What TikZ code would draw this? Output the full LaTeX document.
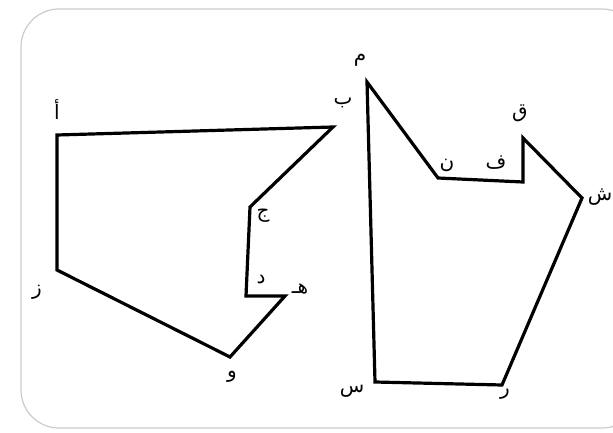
\documentclass[tikz,border=0pt]{standalone}
\usepackage{fontspec}
\newfontfamily\arabicfont[Script=Arabic]{DejaVu Sans}
\TeXXeTstate=1
\begin{document}
\begin{tikzpicture}[x=1pt,y=-1pt,
  polyline/.style={line width=3.2pt,line join=miter,black},
  lbl/.style={font=\arabicfont\fontsize{20}{20}\selectfont,inner sep=0pt},
  frame/.style={draw=black!20,line width=1.2pt,rounded corners=38pt}]
\useasboundingbox (0,0) rectangle (613,433);
\fill[white] (0,0) rectangle (613,433);
\draw[frame] (21,9) rectangle (640,428);
% left polygon
\coordinate (A) at (57,135);
\coordinate (B) at (333,127);
\coordinate (C) at (250,207);
\coordinate (D) at (246,296);
\coordinate (E) at (285,296);
\coordinate (F) at (230,357);
\coordinate (G) at (57,270);
\draw[polyline] (A) -- (B) -- (C) -- (D) -- (E) -- (F) -- (G) -- cycle;
\node[lbl] (lA) at (57,110) {\beginR أ\endR};
\node[lbl] (lB) at (343,103) {\beginR ب\endR};
\node[lbl] (lC) at (263,216) {\beginR ج\endR};
\node[lbl] (lD) at (261,280) {\beginR د\endR};
\node[lbl] (lE) at (300,289) {\beginR هـ\endR};
\node[lbl] (lF) at (232,377) {\beginR و\endR};
\node[lbl] (lG) at (37,292) {\beginR ز\endR};
% right polygon
\coordinate (M) at (367,82);
\coordinate (N) at (438,178);
\coordinate (P) at (523,182);
\coordinate (Q) at (523,138);
\coordinate (Sh) at (582,198);
\coordinate (R) at (502,385);
\coordinate (S) at (375,382);
\draw[polyline] (M) -- (N) -- (P) -- (Q) -- (Sh) -- (R) -- (S) -- cycle;
\node[lbl] (lM) at (360,60) {\beginR م\endR};
\node[lbl] (lN) at (447,165) {\beginR ن\endR};
\node[lbl] (lP) at (496,163) {\beginR ف\endR};
\node[lbl] (lQ) at (520,113) {\beginR ق\endR};
\node[lbl] (lSh) at (600,197) {\beginR ش\endR};
\node[lbl] (lR) at (505,394) {\beginR ر\endR};
\node[lbl] (lS) at (352,391) {\beginR س\endR};
\end{tikzpicture}
\end{document}
